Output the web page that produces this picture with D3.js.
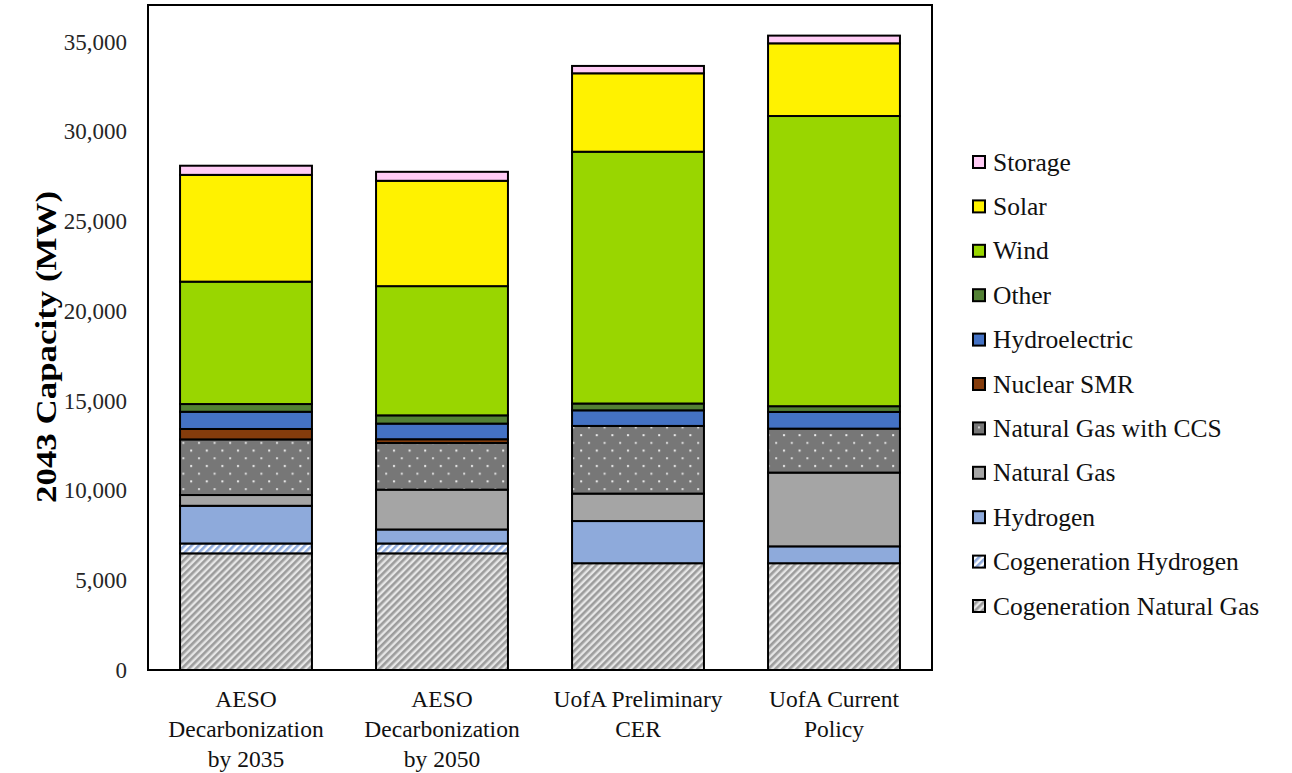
<!DOCTYPE html>
<html>
<head>
<meta charset="utf-8">
<script src="https://cdn.jsdelivr.net/npm/d3@7"></script>
<style>
  html, body { margin: 0; padding: 0; background: #fff; }
  svg { display: block; }
  text { font-family: "Liberation Serif", "Times New Roman", serif; }
</style>
</head>
<body>
<svg id="chart" width="1292" height="773"></svg>
<script>
// Scenario names (multi-line labels on the x axis)
const scenarios = [
  ["AESO", "Decarbonization", "by 2035"],
  ["AESO", "Decarbonization", "by 2050"],
  ["UofA Preliminary", "CER"],
  ["UofA Current", "Policy"]
];

// Stack order, bottom to top
const seriesNames = [
  "Cogeneration Natural Gas", "Cogeneration Hydrogen", "Hydrogen", "Natural Gas",
  "Natural Gas with CCS", "Nuclear SMR", "Hydroelectric", "Other", "Wind", "Solar", "Storage"
];

// 2043 installed capacity (MW) per series, one value per scenario
const cogenNaturalGas = [6500, 6500, 5950, 5950];
const cogenHydrogen   = [550, 550, 0, 0];
const hydrogen        = [2100, 780, 2350, 940];
const naturalGas      = [600, 2220, 1530, 4110];
const naturalGasCCS   = [3100, 2600, 3770, 2450];
const nuclearSMR      = [580, 210, 0, 0];
const hydroelectric   = [960, 870, 870, 930];
const other           = [430, 460, 380, 320];
const wind            = [6820, 7200, 14030, 16170];
const solar           = [5950, 5870, 4370, 4050];
const storage         = [510, 500, 410, 430];

const yTicks = [0, 5000, 10000, 15000, 20000, 25000, 30000, 35000];

const seriesValues = [cogenNaturalGas, cogenHydrogen, hydrogen, naturalGas, naturalGasCCS,
  nuclearSMR, hydroelectric, other, wind, solar, storage];

const rows = scenarios.map((s, i) => {
  const r = { key: i };
  seriesNames.forEach((n, j) => { r[n] = seriesValues[j][i]; });
  return r;
});

const svg = d3.select("#chart");
const defs = svg.append("defs");

// Diagonal hatch fills for the cogeneration series
function hatch(id, bg, fg, size, stripe) {
  const p = defs.append("pattern").attr("id", id)
    .attr("patternUnits", "userSpaceOnUse")
    .attr("width", size).attr("height", size)
    .attr("patternTransform", "rotate(45)");
  p.append("rect").attr("width", size).attr("height", size).attr("fill", bg);
  p.append("rect").attr("width", stripe).attr("height", size).attr("fill", fg);
}
hatch("hatchGray", "#e6e6e6", "#9c9c9c", 5, 2.6);
hatch("hatchBlue", "#ffffff", "#8eaadb", 5, 2.6);

// Dotted fill for natural gas with CCS
(function () {
  const w = 15.6, h = 15.4;
  const p = defs.append("pattern").attr("id", "dotsCCS")
    .attr("patternUnits", "userSpaceOnUse")
    .attr("width", w).attr("height", h);
  p.append("rect").attr("width", w).attr("height", h).attr("fill", "#777777");
  p.append("rect").attr("x", 3).attr("y", 3).attr("width", 2).attr("height", 2).attr("fill", "#eeeeee");
  p.append("rect").attr("x", 3 + w / 2).attr("y", 3 + h / 2).attr("width", 2).attr("height", 2).attr("fill", "#dddddd");
})();

const fills = {
  "Cogeneration Natural Gas": "url(#hatchGray)",
  "Cogeneration Hydrogen": "url(#hatchBlue)",
  "Hydrogen": "#8eaadb",
  "Natural Gas": "#a5a5a5",
  "Natural Gas with CCS": "url(#dotsCCS)",
  "Nuclear SMR": "#843c0c",
  "Hydroelectric": "#4472c4",
  "Other": "#538135",
  "Wind": "#99d600",
  "Solar": "#fff200",
  "Storage": "#ffccf5"
};

const plot = { left: 148, right: 932, top: 6, bottom: 670 };

const x = d3.scaleBand()
  .domain(rows.map(r => r.key))
  .range([plot.left, plot.right])
  .paddingInner(0.327)
  .paddingOuter(0.1635);

const y = d3.scaleLinear().domain([0, 37000]).range([plot.bottom, plot.top]);

const stacked = d3.stack().keys(seriesNames)(rows);

// Bars
const g = svg.append("g");
stacked.forEach(layer => {
  g.append("g").selectAll("rect")
    .data(layer.filter(d => d[1] - d[0] > 0))
    .join("rect")
    .attr("x", d => x(d.data.key))
    .attr("width", x.bandwidth())
    .attr("y", d => y(d[1]))
    .attr("height", d => y(d[0]) - y(d[1]))
    .attr("fill", fills[layer.key])
    .attr("stroke", "#000")
    .attr("stroke-width", 2);
});

// Plot frame
svg.append("rect")
  .attr("x", plot.left).attr("y", 5)
  .attr("width", plot.right - plot.left).attr("height", plot.bottom - 5)
  .attr("fill", "none").attr("stroke", "#000").attr("stroke-width", 2);

// Y axis labels
const yAxis = svg.append("g")
  .attr("transform", `translate(${plot.left},0)`)
  .call(d3.axisLeft(y).tickValues(yTicks).tickSize(0).tickPadding(21)
    .tickFormat(d3.format(",")));
yAxis.select(".domain").remove();
yAxis.selectAll("text")
  .style("font-family", '"Liberation Serif", "Times New Roman", serif')
  .style("font-size", "23px")
  .attr("fill", "#262626");

// Y axis title (condensed bold)
svg.append("text")
  .attr("transform", `translate(56,347) rotate(-90)`)
  .attr("text-anchor", "middle")
  .attr("textLength", 312)
  .attr("lengthAdjust", "spacingAndGlyphs")
  .style("font-size", "29px")
  .style("font-weight", "bold")
  .text("2043 Capacity (MW)");

// X axis labels
const xl = svg.append("g");
rows.forEach((r, i) => {
  const t = xl.append("text")
    .attr("x", x(r.key) + x.bandwidth() / 2)
    .attr("y", 707)
    .attr("text-anchor", "middle")
    .style("font-size", "23.5px")
    .attr("fill", "#111");
  scenarios[i].forEach((line, k) => {
    t.append("tspan").attr("x", x(r.key) + x.bandwidth() / 2)
      .attr("dy", k === 0 ? 0 : 30).text(line);
  });
});

// Legend (top entry is the top of the stack)
const legendNames = seriesNames.slice().reverse();
const lg = svg.append("g");
legendNames.forEach((n, i) => {
  const cy = 162 + i * 44.4;
  lg.append("rect")
    .attr("x", 973).attr("y", cy - 6).attr("width", 12).attr("height", 12)
    .attr("fill", fills[n]).attr("stroke", "#000").attr("stroke-width", 2);
  lg.append("text")
    .attr("x", 993).attr("y", cy)
    .attr("dominant-baseline", "central")
    .style("font-size", "25.5px")
    .attr("fill", "#111")
    .text(n);
});
</script>
</body>
</html>
